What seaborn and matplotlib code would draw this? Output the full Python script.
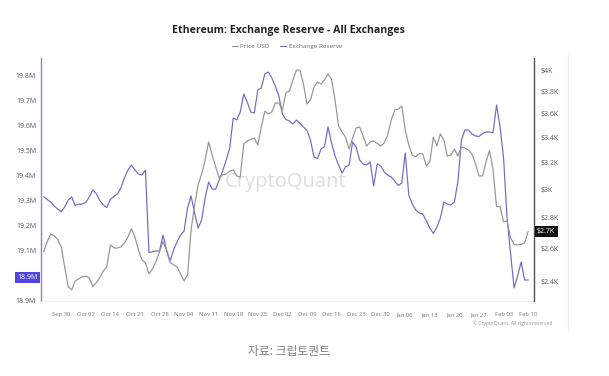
import matplotlib
matplotlib.use("Agg")
import matplotlib.pyplot as plt
import matplotlib.dates as mdates
from matplotlib.ticker import FixedLocator, FuncFormatter, NullLocator, NullFormatter
from matplotlib.transforms import blended_transform_factory
from matplotlib.lines import Line2D
import pandas as pd
import seaborn as sns

# ---------------- data ----------------
dates = pd.date_range("2024-09-25", "2025-02-10", freq="D")

reserve_m = [
    19.316, 19.305, 19.295, 19.279, 19.267, 19.256, 19.275, 19.303, 19.315, 19.281,
    19.287, 19.287, 19.293, 19.315, 19.343, 19.329, 19.301, 19.283, 19.273, 19.305,
    19.317, 19.327, 19.351, 19.391, 19.423, 19.443, 19.423, 19.407, 19.403, 19.423,
    19.093, 19.096, 19.099, 19.099, 19.163, 19.103, 19.059, 19.103, 19.135, 19.163,
    19.179, 19.271, 19.319, 19.251, 19.190, 19.223, 19.311, 19.375, 19.347, 19.346,
    19.383, 19.419, 19.463, 19.511, 19.631, 19.623, 19.655, 19.727, 19.695, 19.655,
    19.651, 19.743, 19.751, 19.807, 19.815, 19.791, 19.759, 19.719, 19.647, 19.625,
    19.619, 19.607, 19.623, 19.609, 19.595, 19.581, 19.543, 19.475, 19.469, 19.507,
    19.517, 19.595, 19.531, 19.479, 19.443, 19.411, 19.435, 19.443, 19.535, 19.515,
    19.463, 19.447, 19.443, 19.455, 19.359, 19.447, 19.439, 19.415, 19.403, 19.395,
    19.379, 19.361, 19.371, 19.491, 19.323, 19.287, 19.263, 19.251, 19.247, 19.219,
    19.191, 19.169, 19.195, 19.231, 19.295, 19.287, 19.283, 19.295, 19.379, 19.543,
    19.583, 19.583, 19.567, 19.559, 19.557, 19.569, 19.575, 19.575, 19.572, 19.683,
    19.595, 19.471, 19.231, 19.087, 18.951, 18.999, 19.055, 18.983, 18.983,
]

price_usd = [
    2581, 2642, 2694, 2681, 2658, 2611, 2489, 2371, 2354, 2405,
    2417, 2429, 2432, 2423, 2373, 2394, 2423, 2464, 2488, 2623,
    2604, 2603, 2611, 2636, 2674, 2727, 2674, 2592, 2530, 2512,
    2446, 2476, 2518, 2580, 2644, 2592, 2514, 2500, 2488, 2446,
    2405, 2440, 2720, 2889, 3031, 3113, 3220, 3363, 3258, 3166,
    3083, 3105, 3113, 3135, 3143, 3098, 3090, 3347, 3371, 3383,
    3395, 3338, 3486, 3623, 3597, 3615, 3694, 3694, 3632, 3785,
    3803, 3904, 4000, 4000, 3867, 3685, 3721, 3839, 3885, 3867,
    3904, 3962, 3914, 3721, 3495, 3444, 3403, 3306, 3395, 3478,
    3486, 3411, 3330, 3363, 3371, 3351, 3330, 3355, 3420, 3546,
    3632, 3641, 3668, 3461, 3338, 3258, 3243, 3270, 3266, 3174,
    3205, 3403, 3330, 3428, 3379, 3250, 3258, 3306, 3250, 3322,
    3314, 3298, 3266, 3189, 3098, 3098, 3205, 3294, 3143, 2877,
    2877, 2773, 2779, 2668, 2626, 2623, 2626, 2636, 2709,
]

reserve_ticks = [18.9, 19.1, 19.2, 19.3, 19.4, 19.5, 19.6, 19.7, 19.8]
price_ticks = [2400, 2600, 2800, 3000, 3200, 3400, 3600, 3800, 4000]
week_ticks = pd.date_range("2024-09-30", "2025-02-10", freq="7D")

latest_reserve_label = "18.9M"
latest_price_label = "$2.7K"

PURPLE = "#7068c8"
GRAY = "#949494"
TXT = "#5a5a5a"

# ---------------- figure ----------------
sns.set_style("white")
plt.rcParams["font.family"] = ["Open Sans", "Noto Sans CJK KR", "DejaVu Sans"]

W, H = 609, 376
fig = plt.figure(figsize=(W / 100, H / 100), dpi=100)
fig.patch.set_facecolor("white")

left_px, right_px, top_px, bot_px = 41, 534, 58, 301
ax = fig.add_axes([left_px / W, 1 - bot_px / H, (right_px - left_px) / W, (bot_px - top_px) / H])
ax2 = ax.twinx()

df = pd.DataFrame({"date": dates, "reserve": reserve_m, "price": price_usd})

# watermark behind the lines
ax.text(0.497, 0.49, "CryptoQuant", transform=ax.transAxes, ha="center", va="center",
        fontsize=14.5, color="#dedede", zorder=0)

sns.lineplot(data=df, x="date", y="reserve", ax=ax, color=PURPLE, linewidth=0.85, zorder=3)
sns.lineplot(data=df, x="date", y="price", ax=ax2, color=GRAY, linewidth=0.85, zorder=3)

ax.set_xlim(dates[0] - pd.Timedelta(hours=18), dates[-1] + pd.Timedelta(hours=40))
ax.set_ylim(18.899, 19.871)
ax2.set_yscale("log")
ax2.set_ylim(2291, 4118)

for a in (ax, ax2):
    a.set_xlabel("")
    a.set_ylabel("")
    for s in a.spines.values():
        s.set_visible(False)

ax.spines["left"].set_visible(True)
ax.spines["left"].set_color("#8a80e0")
ax.spines["left"].set_linewidth(1.0)
ax2.spines["right"].set_visible(True)
ax2.spines["right"].set_color("#555555")
ax2.spines["right"].set_linewidth(1.0)
ax.spines["bottom"].set_visible(True)
ax.spines["bottom"].set_color("#f0f0f0")
ax.spines["bottom"].set_linewidth(0.6)

# left axis ticks
ax.yaxis.set_major_locator(FixedLocator(reserve_ticks))
ax.yaxis.set_major_formatter(FuncFormatter(lambda v, p: f"{v:.1f}M"))
ax.tick_params(axis="y", length=0, pad=3.5, labelsize=5, labelcolor=TXT)

# right axis ticks
def kfmt(v, p):
    k = v / 1000
    s = f"{k:.1f}".rstrip("0").rstrip(".")
    return f"${s}K"

ax2.yaxis.set_major_locator(FixedLocator(price_ticks))
ax2.yaxis.set_major_formatter(FuncFormatter(kfmt))
ax2.yaxis.set_minor_locator(NullLocator())
ax2.yaxis.set_minor_formatter(NullFormatter())
ax2.tick_params(axis="y", length=0, pad=5, labelsize=5, labelcolor=TXT)

# x ticks
ax.xaxis.set_major_locator(FixedLocator(mdates.date2num(week_ticks)))
ax.xaxis.set_major_formatter(mdates.DateFormatter("%b %d"))
ax.tick_params(axis="x", length=0, pad=8, labelsize=4.2, labelcolor="#777777")
ax2.tick_params(axis="x", length=0)

# latest value badges
tl = blended_transform_factory(ax.transAxes, ax.transData)
ax.text(-0.006, reserve_m[-1] + 0.01, latest_reserve_label, transform=tl, ha="right", va="center",
        fontsize=5, color="white", zorder=5, clip_on=False,
        bbox=dict(boxstyle="square,pad=0.35", fc="#5144e0", ec="none"))
tr = blended_transform_factory(ax2.transAxes, ax2.transData)
ax2.text(1.006, price_usd[-1], latest_price_label, transform=tr, ha="left", va="center",
         fontsize=5, color="white", zorder=5, clip_on=False,
         bbox=dict(boxstyle="square,pad=0.35", fc="#111111", ec="none"))

# title and legend
fig.text(288 / W, 1 - 31 / H, "Ethereum: Exchange Reserve - All Exchanges", ha="center", va="center",
         fontsize=7.6, fontweight="bold", color="#222222")
handles = [Line2D([], [], color=GRAY, lw=0.8), Line2D([], [], color=PURPLE, lw=0.8)]
fig.legend(handles, ["Price USD", "Exchange Reserve"], loc="center", bbox_to_anchor=(287 / W, 1 - 46 / H),
           ncol=2, frameon=False, fontsize=4.6, handlelength=1.0, handletextpad=0.4,
           columnspacing=1.6, labelcolor="#666666")

# copyright, card edge, caption
fig.text(552 / W, 1 - 323 / H, "© CryptoQuant. All rights reserved", ha="right", va="center",
         fontsize=3.6, color="#999999")
fig.add_artist(Line2D([568 / W, 568 / W], [1 - 55 / H, 1 - 332 / H], transform=fig.transFigure,
                      color="#ececec", lw=0.8))
fig.text(289 / W, 1 - 352 / H, "자료: 크립토퀀트", ha="center", va="center",
         fontsize=8.5, color="#808080", family=["Noto Sans CJK KR", "DejaVu Sans"])

fig.savefig("out.png", dpi=100, facecolor="white")
